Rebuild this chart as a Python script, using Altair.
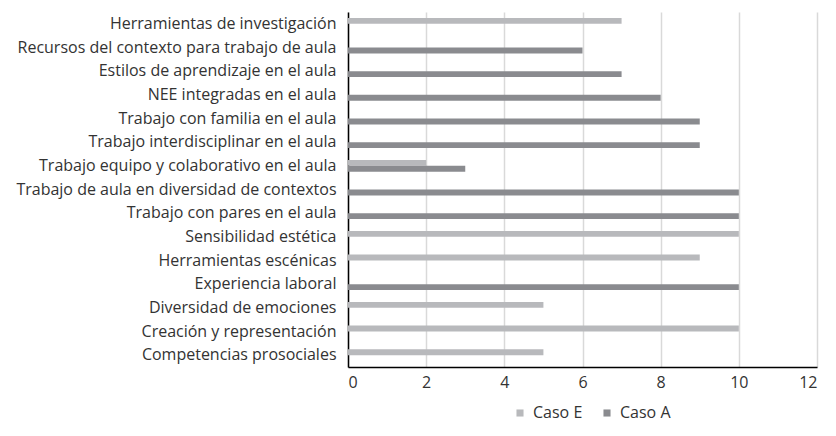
import altair as alt
import pandas as pd

categories = [
    "Herramientas de investigación",
    "Recursos del contexto para trabajo de aula",
    "Estilos de aprendizaje en el aula",
    "NEE integradas en el aula",
    "Trabajo con familia en el aula",
    "Trabajo interdisciplinar en el aula",
    "Trabajo equipo y colaborativo en el aula",
    "Trabajo de aula en diversidad de contextos",
    "Trabajo con pares en el aula",
    "Sensibilidad estética",
    "Herramientas escénicas",
    "Experiencia laboral",
    "Diversidad de emociones",
    "Creación y representación",
    "Competencias prosociales",
]
caso_e = [7, None, None, None, None, None, 2, None, None, 10, 9, None, 5, 10, 5]
caso_a = [None, 6, 7, 8, 9, 9, 3, 10, 10, None, None, 10, None, None, None]
series = ["Caso E", "Caso A"]
colors = ["#b8b9bc", "#8a8b8f"]

rows = []
for c, e, a in zip(categories, caso_e, caso_a):
    if e is not None:
        rows.append({"cat": c, "serie": "Caso E", "val": e})
    if a is not None:
        rows.append({"cat": c, "serie": "Caso A", "val": a})
df = pd.DataFrame(rows)

font = "Open Sans"
fs = 16

chart = alt.Chart(df).mark_bar().encode(
    y=alt.Y("cat:N", sort=categories, title=None,
            scale=alt.Scale(paddingInner=0.5, paddingOuter=0.25),
            axis=alt.Axis(labelFontSize=fs, labelColor="#333333", labelFont=font,
                          ticks=False, domain=True, domainColor="#000000", domainWidth=1.5,
                          labelPadding=12, labelLimit=400)),
    x=alt.X("val:Q", title=None,
            scale=alt.Scale(domain=[0, 12]),
            axis=alt.Axis(values=[0, 2, 4, 6, 8, 10, 12], labelFontSize=fs, labelColor="#333333",
                          labelFont=font, ticks=False, domainColor="#000000", domainWidth=1.5,
                          grid=True, gridColor="#d9d9d9", gridWidth=1.5, labelPadding=7)),
    yOffset=alt.YOffset("serie:N", sort=series, scale=alt.Scale(domain=series)),
    color=alt.Color("serie:N", sort=series,
                    scale=alt.Scale(domain=series, range=colors),
                    legend=alt.Legend(title=None, orient="none", legendX=164, legendY=393,
                                      direction="horizontal",
                                      symbolType="square", symbolSize=50, symbolStrokeWidth=0,
                                      labelFontSize=fs, labelColor="#333333", labelFont=font,
                                      labelOffset=5, columnPadding=16)),
).properties(
    width=469, height=355,
    autosize=alt.AutoSizeParams(type="none"),
    padding={"left": 340, "top": 4, "right": 11, "bottom": 56},
).configure_view(stroke=None)

chart.save("out.html", embed_options={"renderer": "svg", "actions": False})
